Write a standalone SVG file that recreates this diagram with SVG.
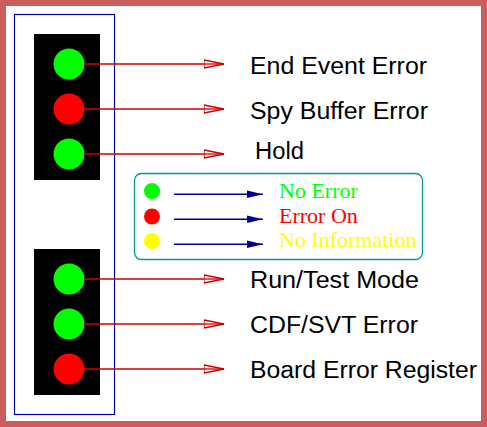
<svg xmlns="http://www.w3.org/2000/svg" width="487" height="427" viewBox="0 0 487 427">
<defs>
<style>
.lbl{font-family:"Liberation Sans",Arial,sans-serif;font-size:23.5px;fill:#000}
.leg{font-family:"Liberation Serif","Times New Roman",serif;font-size:22px}
.rl{stroke:#cc0000;stroke-width:1.3;fill:none}
.bl{stroke:#000090;stroke-width:1.5;fill:none}
</style>
<marker id="open" markerWidth="22" markerHeight="10" refX="20" refY="5" orient="auto" markerUnits="userSpaceOnUse">
<polygon points="0,1 20,5 0,9" fill="#fff" stroke="#cc0000" stroke-width="1.3"/>
<line x1="0" y1="5" x2="20" y2="5" stroke="#cc0000" stroke-width="1.3"/>
</marker>
<marker id="fill" markerWidth="18" markerHeight="10" refX="16" refY="5" orient="auto" markerUnits="userSpaceOnUse">
<polygon points="0,1.3 16,5 0,8.7" fill="#000090"/>
</marker>
</defs>
<rect x="3" y="3" width="481" height="421" fill="#fff" stroke="#cd5c5c" stroke-width="6"/>
<rect id="panel" x="14.5" y="14.5" width="100" height="400" fill="none" stroke="#0000a0" stroke-width="1.2"/>
<g id="led-block-top">
<rect x="34" y="34" width="66" height="146" fill="#000"/>
<circle cx="69" cy="64" r="15.5" fill="#00ff00"/>
<circle cx="69" cy="109" r="15.5" fill="#ff0000"/>
<circle cx="69" cy="154" r="15.5" fill="#00ff00"/>
</g>
<g id="led-block-bottom">
<rect x="34" y="249" width="66" height="146" fill="#000"/>
<circle cx="69" cy="279" r="15.5" fill="#00ff00"/>
<circle cx="69" cy="324" r="15.5" fill="#00ff00"/>
<circle cx="69" cy="369" r="15.5" fill="#ff0000"/>
</g>
<g id="connectors">
<line class="rl" x1="84" y1="64" x2="224" y2="64" marker-end="url(#open)"/>
<line class="rl" x1="84" y1="109" x2="224" y2="109" marker-end="url(#open)"/>
<line class="rl" x1="84" y1="154" x2="224" y2="154" marker-end="url(#open)"/>
<line class="rl" x1="84" y1="279" x2="224" y2="279" marker-end="url(#open)"/>
<line class="rl" x1="84" y1="324" x2="224" y2="324" marker-end="url(#open)"/>
<line class="rl" x1="84" y1="369" x2="224" y2="369" marker-end="url(#open)"/>
<line class="bl" x1="174" y1="194.3" x2="263" y2="194.3" marker-end="url(#fill)"/>
<line class="bl" x1="174" y1="219.3" x2="263" y2="219.3" marker-end="url(#fill)"/>
<line class="bl" x1="174" y1="244.3" x2="263" y2="244.3" marker-end="url(#fill)"/>
</g>
<g id="labels">
<text class="lbl" x="250" y="74" textLength="177" lengthAdjust="spacingAndGlyphs">End Event Error</text>
<text class="lbl" x="250" y="119" textLength="178" lengthAdjust="spacingAndGlyphs">Spy Buffer Error</text>
<text class="lbl" x="255" y="159" textLength="49" lengthAdjust="spacingAndGlyphs">Hold</text>
<text class="lbl" x="250" y="288" textLength="169" lengthAdjust="spacingAndGlyphs">Run/Test Mode</text>
<text class="lbl" x="250" y="333" textLength="168" lengthAdjust="spacingAndGlyphs">CDF/SVT Error</text>
<text class="lbl" x="250" y="378" textLength="227" lengthAdjust="spacingAndGlyphs">Board Error Register</text>
</g>
<g id="legend">
<rect x="134.5" y="173.5" width="288" height="86" rx="7" fill="none" stroke="#009999" stroke-width="1.3"/>
<circle cx="152" cy="191" r="8" fill="#00ff00"/>
<circle cx="152" cy="216.5" r="8" fill="#ff0000"/>
<circle cx="152" cy="241" r="8" fill="#ffff00"/>
<text class="leg" x="279" y="198.3" fill="#00ff00">No Error</text>
<text class="leg" x="279" y="223.3" fill="#ff0000">Error On</text>
<text class="leg" x="279" y="246.7" fill="#ffff00">No Information</text>
</g>
</svg>
